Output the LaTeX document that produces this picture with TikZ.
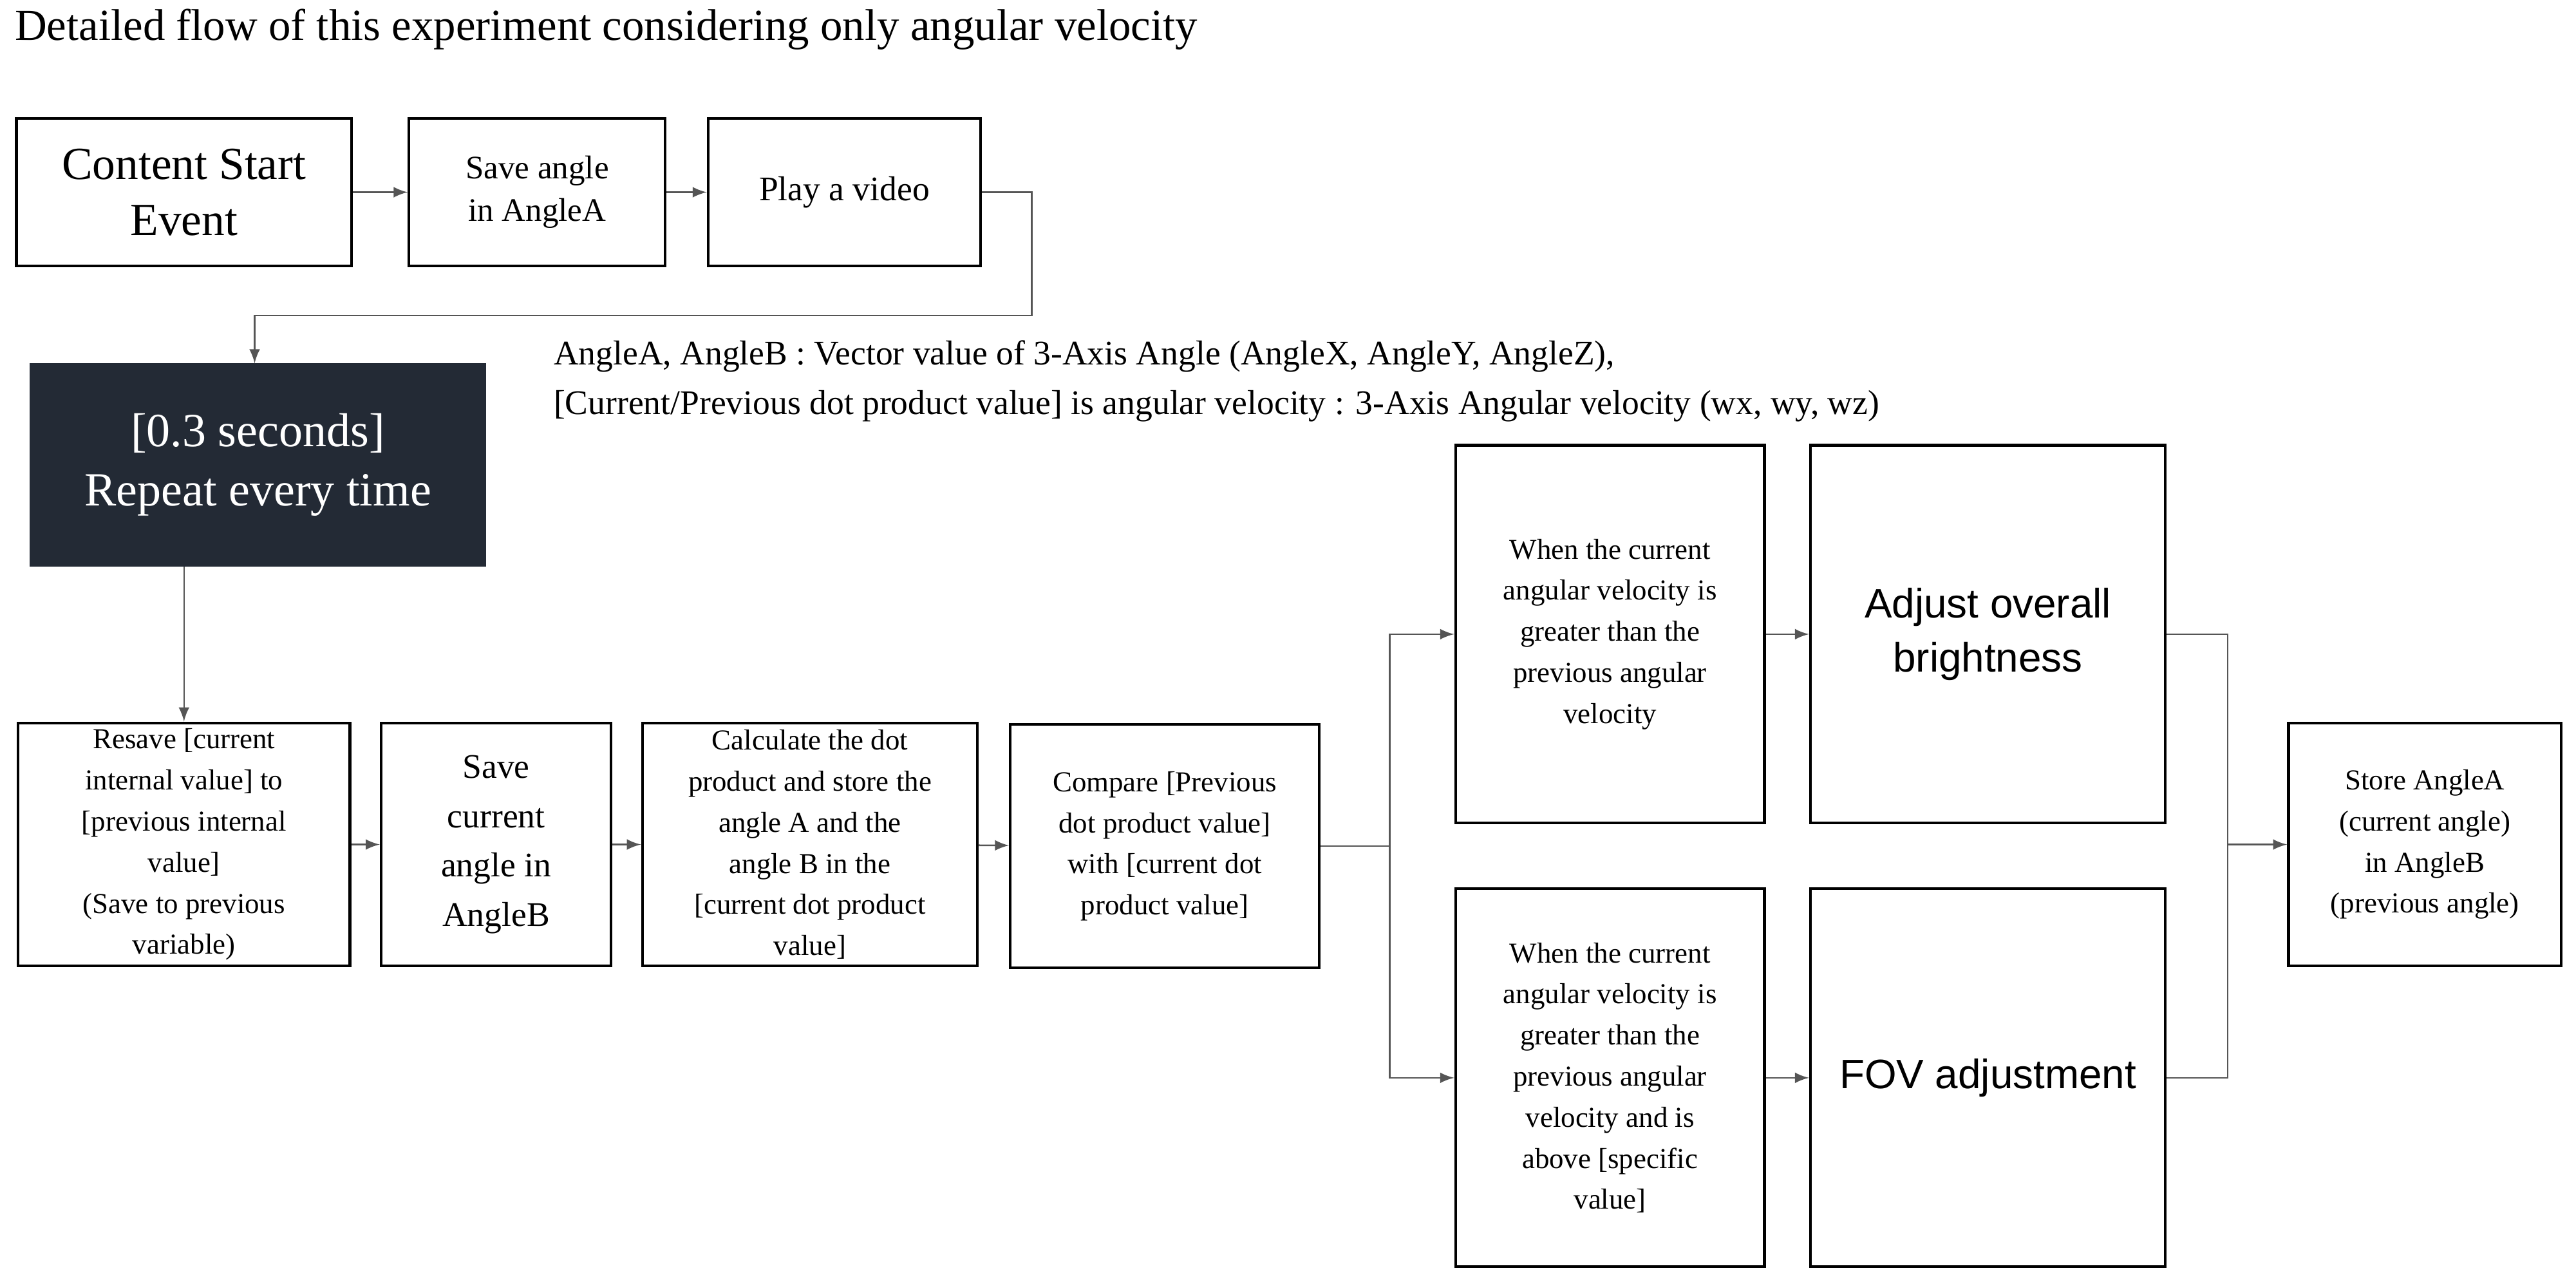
\documentclass[tikz,border=0pt]{standalone}
\usepackage{fontspec}
\setmainfont{Liberation Serif}
\newfontfamily\sansf{Liberation Sans}
\usetikzlibrary{arrows}
\definecolor{darkbox}{HTML}{232A35}
\definecolor{linegray}{HTML}{555555}
\begin{document}
\begin{tikzpicture}[x=0.5pt, y=-0.5pt,
  box/.style={draw,line width=0.8pt,align=center,font=\fontsize{8.8}{12.5}\selectfont,inner sep=1pt},
  flow/.style={-latex,draw=linegray,line width=0.5pt}]
      \useasboundingbox (0,0) rectangle (1568,780);
      \node[anchor=west,font=\fontsize{13.5}{16}\selectfont] (title) at (2,18) {Detailed flow of this experiment considering only angular velocity};
      \node[box,minimum width=102pt,minimum height=45pt,font=\fontsize{14}{17}\selectfont] (start) at (112,117) {Content Start\\Event};
      \node[box,minimum width=78pt,minimum height=45pt,font=\fontsize{10}{13}\selectfont] (saveA) at (327,117) {Save angle\\in AngleA};
      \node[box,minimum width=83pt,minimum height=45pt,font=\fontsize{10.5}{13}\selectfont] (video) at (514,117) {Play a video};
      \node[box,fill=darkbox,draw=darkbox,text=white,minimum width=138pt,minimum height=61pt,font=\fontsize{14.5}{18}\selectfont] (repeat) at (157,283) {[0.3 seconds]\\Repeat every time};
      \node[anchor=west,align=left,font=\fontsize{10.5}{15}\selectfont] (note) at (330,232) {AngleA, AngleB : Vector value of 3-Axis Angle (AngleX, AngleY, AngleZ),\\{}[Current/Previous dot product value] is angular velocity : 3-Axis Angular velocity (wx, wy, wz)};
      \node[box,minimum width=101pt,minimum height=74pt] (resave) at (112,514) {Resave [current\\internal value] to\\{}[previous internal\\value]\\(Save to previous\\variable)};
      \node[box,minimum width=70pt,minimum height=74pt,font=\fontsize{10.5}{15}\selectfont] (saveB) at (302,514) {Save\\current\\angle in\\AngleB};
      \node[box,minimum width=102pt,minimum height=74pt] (dot) at (493,514) {Calculate the dot\\product and store the\\angle A and the\\angle B in the\\{}[current dot product\\value]};
      \node[box,minimum width=94pt,minimum height=74pt] (compare) at (709,515) {Compare [Previous\\dot product value]\\with [current dot\\product value]};
      \node[box,minimum width=94pt,minimum height=115pt] (condA) at (980,386) {When the current\\angular velocity is\\greater than the\\previous angular\\velocity};
      \node[box,minimum width=108pt,minimum height=115pt,font=\sansf\fontsize{12.5}{16.5}\selectfont] (bright) at (1210,386) {Adjust overall\\brightness};
      \node[box,minimum width=94pt,minimum height=115pt] (condB) at (980,656) {When the current\\angular velocity is\\greater than the\\previous angular\\velocity and is\\above [specific\\value]};
      \node[box,minimum width=108pt,minimum height=115pt,font=\sansf\fontsize{12.5}{16.5}\selectfont] (fov) at (1210,656) {FOV adjustment};
      \node[box,minimum width=83pt,minimum height=74pt] (store) at (1476,514) {Store AngleA\\(current angle)\\in AngleB\\(previous angle)};
      \coordinate (split) at (846,515);
      \coordinate (join) at (1356,514);
      \draw[flow] (start) -- (saveA);
      \draw[flow] (saveA) -- (video);
      \draw[flow] (video.east) -| (628,192) -| (repeat.north -| 155,0);
      \draw[flow] (repeat.south -| resave.north) -- (resave.north);
      \draw[flow] (resave) -- (saveB);
      \draw[flow] (saveB) -- (dot);
      \draw[flow] (dot) -- (compare);
      \draw[linegray,line width=0.5pt] (compare) -- (split);
      \draw[flow] (split) |- (condA);
      \draw[flow] (split) |- (condB);
      \draw[flow] (condA) -- (bright);
      \draw[flow] (condB) -- (fov);
      \draw[linegray,line width=0.5pt] (bright) -| (join);
      \draw[linegray,line width=0.5pt] (fov) -| (join);
      \draw[flow] (join) -- (store);
\end{tikzpicture}
\end{document}
